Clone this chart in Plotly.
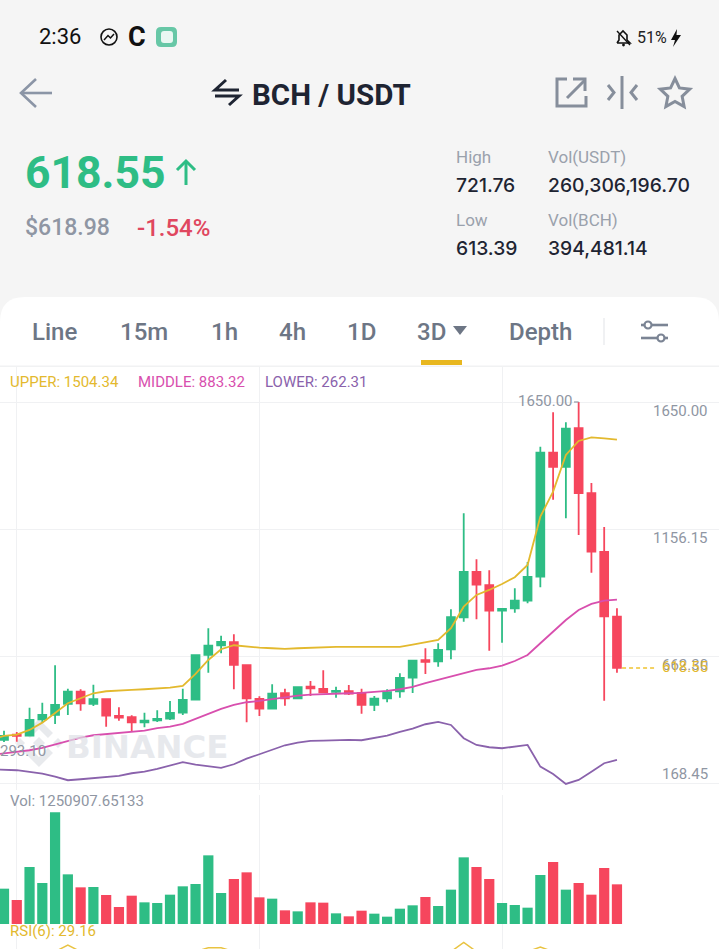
import math
import plotly.graph_objects as go

# ---------- data ----------
opens = [339.3,359.8,356.0,419.6,436.2,478.9,526.6,478.9,497.1,432.4,427.3,407.9,415.7,421.9,445.1,495.6,668.9,706.5,718.2,629.0,
         498.3,460.7,520.4,501.0,546.0,537.1,525.4,528.1,521.5,475.0,501.0,528.1,580.9,648.4,644.5,691.0,815.1,990.8,939.2,840.7,
         850.0,879.5,972.6,1453.4,1398.0,1548.1,1296.0,1068.3,817.4]
highs = [375.3,370.3,464.5,483.9,629.0,538.2,535.9,553.7,497.1,466.1,435.1,445.1,454.5,490.5,538.2,667.7,772.4,743.8,749.2,632.8,
         508.7,555.3,538.2,543.7,568.1,609.6,546.0,552.6,538.2,509.9,535.9,597.9,648.4,694.9,714.3,846.1,1218.4,1040.0,997.4,847.3,
         927.6,1029.6,1476.7,1610.1,1571.3,1650.0,1335.9,1165.3,850.0]
lows = [331.5,332.7,354.8,405.2,401.3,436.2,452.9,471.1,390.9,414.1,371.5,388.5,409.1,416.8,436.2,493.2,600.3,675.5,535.9,407.9,
        432.4,458.3,472.3,499.4,509.9,520.4,503.3,513.8,441.3,451.7,485.5,503.3,521.5,595.2,623.5,652.2,798.0,807.3,685.6,716.6,
        832.9,869.4,931.4,1271.2,1199.0,1134.3,988.1,491.7,600.3]
closes = [354.8,354.8,416.8,436.2,475.0,526.6,481.6,497.1,433.5,425.8,407.9,414.1,420.7,444.0,494.4,667.7,705.0,719.3,630.1,501.0,
          460.7,518.8,501.0,543.7,539.8,524.3,529.3,518.8,475.0,499.4,524.3,579.7,646.8,641.8,688.3,815.1,990.8,941.5,840.7,847.3,
          879.5,971.4,1453.4,1398.0,1546.5,1297.1,1069.5,819.0,618.55]
# the band lists start one candle before the first visible candle
upper = [340.0,354.8,359.8,378.1,406.4,442.8,481.6,501.0,520.4,528.1,532.0,533.2,535.9,538.2,542.1,548.7,595.2,649.5,691.0,706.5,701.1,
         697.2,694.9,692.2,694.9,697.2,698.8,699.9,699.9,699.9,698.8,698.8,699.9,708.9,716.6,727.1,772.4,856.2,901.6,921.0,944.2,
         970.2,1017.9,1205.2,1302.2,1444.5,1498.8,1513.1,1509.2,1504.34]
middle = [281.0,287.7,291.6,299.3,308.3,322.6,336.6,348.2,357.5,362.5,366.4,371.5,375.3,384.7,390.9,401.3,420.7,441.3,459.5,475.0,485.5,
          490.5,498.3,506.0,511.1,515.0,517.7,518.8,520.4,521.5,524.3,529.3,535.9,544.8,559.2,572.0,587.5,597.9,610.7,617.3,627.4,
          645.6,668.9,714.3,759.3,804.6,843.4,866.7,879.5,883.32]
lower = [225.0,222.9,221.8,215.2,208.6,197.0,183.0,186.9,191.9,197.0,199.7,210.1,216.4,226.8,239.6,252.8,243.5,235.7,230.7,245.0,266.8,
         283.8,301.7,318.7,328.8,335.4,336.6,338.1,339.3,338.1,345.9,356.0,370.3,383.1,400.2,409.1,397.4,345.9,319.9,311.0,307.1,
         313.3,319.9,235.7,207.4,168.6,184.2,216.4,248.9,262.31]
volume_k = [1114,757,1797,1293,3521,1566,1156,1167,914,536,893,683,662,925,1188,1261,2165,977,1419,1629,
            841,799,431,399,683,673,336,242,420,326,231,483,589,851,568,1083,2102,1797,1419,662,
            599,515,1545,1955,1083,1293,925,1766,1250.9]
rsi = [None,None,None,None,66,76,66,None,None,None,None,None,None,None,None,66,72,72,66,None,
       None,None,None,None,None,None,None,None,None,None,None,None,None,None,None,66,80,66,None,None,
       None,66,73,66,None,None,None,None,None]
grid_prices = [1650.00, 1156.15, 662.30, 168.45]
grid_candles = [1, 20, 39]

GREEN, RED = "#2EBD85", "#F6465D"
YEL, MAG, PUR = "#E3B92E", "#D84FAE", "#8A62AC"
GRAY, GRID = "#8F96A3", "#F0F1F3"
W, H = 719, 949
FONT = "Roboto"
N = len(closes)
idx = list(range(N))
idx_band = list(range(-1, N))
X_STEP, X_0 = 12.77, 4.0


def fx(p):
    return p / W


def fy(p):
    return 1 - p / H


def pth(cmds):
    out = []
    for c in cmds:
        if isinstance(c, str):
            out.append(c)
        else:
            out.append(f"{fx(c[0]):.5f},{fy(c[1]):.5f}")
    return " ".join(out)


def poly(points, close=False):
    s = []
    for i, p in enumerate(points):
        s += ["M" if i == 0 else "L", p]
    if close:
        s.append("Z")
    return pth(s)


shapes, notes = [], []


def stroke(points, color, width=2.5, close=False):
    shapes.append(dict(type="path", xref="paper", yref="paper", path=poly(points, close),
                       line=dict(color=color, width=width), layer="above"))


def fill(points, color, layer="above"):
    shapes.append(dict(type="path", xref="paper", yref="paper", path=poly(points, True),
                       fillcolor=color, line=dict(width=0), layer=layer))


def rrect(x0, y0, x1, y1, r, color):
    shapes.append(dict(type="path", xref="paper", yref="paper", fillcolor=color, line=dict(width=0), layer="above",
                       path=pth(["M", (x0 + r, y0), "L", (x1 - r, y0), "Q", (x1, y0), (x1, y0 + r), "L", (x1, y1 - r),
                                 "Q", (x1, y1), (x1 - r, y1), "L", (x0 + r, y1), "Q", (x0, y1), (x0, y1 - r),
                                 "L", (x0, y0 + r), "Q", (x0, y0), (x0 + r, y0), "Z"])))


def circle(cx, cy, r, line=None, fc=None, width=1.5):
    shapes.append(dict(type="circle", xref="paper", yref="paper", x0=fx(cx - r), x1=fx(cx + r),
                       y0=fy(cy + r), y1=fy(cy - r), fillcolor=fc or "rgba(0,0,0,0)",
                       line=dict(color=line or "rgba(0,0,0,0)", width=width), layer="above"))


def txt(x, y, s, size, color, anchor="left", weight=400, family=FONT):
    notes.append(dict(xref="paper", yref="paper", x=fx(x - 1 if anchor == "left" else x), y=fy(y), text=s, showarrow=False,
                      xanchor=anchor, yanchor="middle", borderpad=0,
                      font=dict(family=family, size=size, color=color, weight=weight)))


# white panel
shapes.append(dict(type="path", xref="paper", yref="paper", layer="below", fillcolor="#FFFFFF", line=dict(width=0),
                   path=pth(["M", (0, 322), "Q", (0, 297), (25, 297), "L", (694, 297), "Q", (719, 297), (719, 322),
                             "L", (719, 949), "L", (0, 949), "Z"])))
shapes.append(dict(type="rect", xref="paper", yref="paper", layer="below", x0=0, x1=1, y0=fy(367), y1=fy(365.5),
                   fillcolor="#F1F2F3", line=dict(width=0)))

# watermark logo
cx0, cy0 = 39, 743
WM = "#E8EAED"
fill([(cx0, cy0 - 24), (cx0 + 14, cy0 - 10), (cx0 + 9, cy0 - 5), (cx0, cy0 - 14), (cx0 - 9, cy0 - 5), (cx0 - 14, cy0 - 10)], WM, "below")
fill([(cx0, cy0 + 24), (cx0 + 14, cy0 + 10), (cx0 + 9, cy0 + 5), (cx0, cy0 + 14), (cx0 - 9, cy0 + 5), (cx0 - 14, cy0 + 10)], WM, "below")
for dx, r in ((0, 6), (-19, 5), (19, 5)):
    fill([(cx0 + dx, cy0 - r), (cx0 + dx + r, cy0), (cx0 + dx, cy0 + r), (cx0 + dx - r, cy0)], WM, "below")
txt(66, 747, "BINANCE", 32.5, "rgba(222,225,230,0.72)", weight=700, family="DejaVu Sans")

# status bar
txt(39, 37, "2:36", 22, "#111111")
circle(109, 37, 8, line="#111111", width=1.6)
stroke([(104, 40), (108, 35.5), (110.5, 38), (114, 34)], "#111111", 1.5)
txt(137, 37, "C", 27, "#111111", "center", 700)
rrect(156, 27, 177, 47, 5, "#67C7A6")
rrect(161, 31, 173, 43, 3, "#EAF7F2")
stroke([(617, 43), (619, 40), (619, 35), (623, 31), (627, 35), (627, 40), (630, 43), (617, 43)], "#111111", 1.6)
stroke([(617, 31), (630, 45)], "#111111", 1.4)
circle(623.5, 45, 1.4, fc="#111111", width=0)
txt(637, 38, "51%", 16, "#222222")
fill([(677, 29), (671, 40), (675, 40), (673, 47), (681, 35), (676.5, 35)], "#111111")

# header row
stroke([(52, 93), (21, 93)], "#8B95A6", 2.6)
stroke([(36, 79), (21, 93), (36, 107)], "#8B95A6", 2.6)
stroke([(226, 80), (215, 90), (239, 90)], "#1E2432", 3)
stroke([(215, 96), (239, 96), (229, 105)], "#1E2432", 3)
txt(252, 95, "BCH / USDT", 29.5, "#1E2432", weight=700)
stroke([(567, 79), (557, 79), (557, 106), (586, 106), (586, 96)], "#868E9B", 3)
stroke([(567, 98), (585, 80)], "#868E9B", 3)
stroke([(573, 79), (585, 79), (585, 91)], "#868E9B", 3)
stroke([(622, 76), (622, 109)], "#868E9B", 3)
stroke([(608, 85), (614, 92.5), (608, 100)], "#868E9B", 3)
stroke([(637, 85), (631, 92.5), (637, 100)], "#868E9B", 3)
star = []
for k in range(10):
    r = 15.5 if k % 2 == 0 else 7.5
    a = -math.pi / 2 + k * math.pi / 5
    star.append((675 + r * math.cos(a), 94 + r * math.sin(a)))
stroke(star, "#868E9B", 3, close=True)

# price block
txt(25, 173, "618.55", 44.5, GREEN, weight=700)
stroke([(186, 185), (186, 161)], GREEN, 3)
stroke([(177, 170), (186, 161), (195, 170)], GREEN, 3)
txt(25, 228, "$618.98", 23, GRAY, weight=500)
txt(137, 228, "-1.54%", 24, "#E0475F", weight=500)
for x, y, s in ((456, 157, "High"), (548, 157, "Vol(USDT)"), (456, 220, "Low"), (548, 220, "Vol(BCH)")):
    txt(x, y, s, 17, "#9AA1AC")
for x, y, s in ((456, 185, "721.76"), (548, 185, "260,306,196.70"), (456, 248, "613.39"), (548, 248, "394,481.14")):
    txt(x, y, s, 19.3, "#1E2432", weight=500, family="Inter")

# tabs
for x, s in ((55, "Line"), (144, "15m"), (224, "1h"), (292, "4h"), (361, "1D"), (431.5, "3D"), (540, "Depth")):
    txt(x, 332, s, 24, "#6D7685", "center", 500)
fill([(453, 326), (467, 326), (460, 335)], "#6D7685")
shapes.append(dict(type="rect", xref="paper", yref="paper", x0=fx(421), x1=fx(462), y0=fy(365), y1=fy(360),
                   fillcolor="#E8B71F", line=dict(width=0), layer="above"))
stroke([(604, 318), (604, 345)], "#E6E8EB", 1.2)
stroke([(641, 325), (668, 325)], "#7B8494", 2.6)
stroke([(641, 338), (668, 338)], "#7B8494", 2.6)
circle(648, 325, 3.5, line="#7B8494", fc="#FFFFFF", width=2.2)
circle(661, 338, 3.5, line="#7B8494", fc="#FFFFFF", width=2.2)

# chart labels
txt(10, 382, "UPPER: 1504.34", 15, YEL)
txt(138, 382, "MIDDLE: 883.32", 15, MAG)
txt(265, 382, "LOWER: 262.31", 15, PUR)
txt(10, 801, "Vol: 1250907.65133", 15, GRAY)
txt(10, 931, "RSI(6): 29.16", 15, YEL)
txt(574, 401, "1650.00", 15, GRAY, "right")
txt(0, 751, "293.10", 15, GRAY)
for y, s in ((411, "1650.00"), (538, "1156.15"), (665, "662.30"), (774, "168.45")):
    txt(709, y, s, 15, GRAY, "right")
txt(709, 667, "618.55", 15, YEL, "right")

# ---------- figure ----------
fig = go.Figure()
fig.add_trace(go.Candlestick(x=idx, open=opens, high=highs, low=lows, close=closes,
                             increasing=dict(line=dict(color=GREEN, width=1.8), fillcolor=GREEN),
                             decreasing=dict(line=dict(color=RED, width=1.8), fillcolor=RED),
                             whiskerwidth=0, hoverinfo="skip", showlegend=False))
for ser, col in ((upper, YEL), (middle, MAG), (lower, PUR)):
    fig.add_trace(go.Scatter(x=idx_band, y=ser, mode="lines", line=dict(color=col, width=1.8),
                             hoverinfo="skip", showlegend=False))
fig.add_trace(go.Scatter(x=[N - 1 + 0.4, N + 2], y=[closes[-1]] * 2, mode="lines",
                         line=dict(color="#F0C330", width=1.4, dash="4px,3px"), hoverinfo="skip", showlegend=False))
fig.add_trace(go.Scatter(x=[44.64, 45], y=[max(highs)] * 2, mode="lines",
                         line=dict(color=GRAY, width=1.2), hoverinfo="skip", showlegend=False))
fig.add_trace(go.Bar(x=idx, y=volume_k, yaxis="y2", width=0.8, hoverinfo="skip", showlegend=False,
                     marker=dict(color=[GREEN if c >= o else RED for o, c in zip(opens, closes)], line=dict(width=0))))
fig.add_trace(go.Scatter(x=idx, y=rsi, yaxis="y3", mode="lines", line=dict(color="#E9C341", width=1.5),
                         connectgaps=False, hoverinfo="skip", showlegend=False))

PX = 127.33 / (1650 - 1156.15)  # pixels per price unit


def price_at(y):
    return 1650 - (y - 402) / PX


x_rng = [(0 - X_0) / X_STEP, (W - X_0) / X_STEP]
fig.update_layout(
    width=W, height=H, margin=dict(l=0, r=0, t=0, b=0, pad=0),
    paper_bgcolor="#F5F5F5", plot_bgcolor="rgba(0,0,0,0)", showlegend=False, bargap=0.2,
    boxgap=0.12, dragmode=False, shapes=shapes, annotations=notes,
    xaxis=dict(domain=[0, 1], range=x_rng, rangeslider=dict(visible=False), showticklabels=False, ticks="",
               showgrid=True, gridcolor=GRID, gridwidth=1.4, tickmode="array", tickvals=grid_candles,
               zeroline=False, showline=False),
    yaxis=dict(domain=[fy(790), fy(367)], range=[price_at(790), price_at(367)], tickmode="array",
               tickvals=grid_prices, showticklabels=False, ticks="", gridcolor=GRID, gridwidth=1.4,
               zeroline=False, showline=False),
    yaxis2=dict(domain=[fy(924), fy(795)], range=[0, 129 * 1250.9 / 39.67], tickmode="array", tickvals=[0],
                showticklabels=False, ticks="", showgrid=True, gridcolor=GRID, gridwidth=1.5,
                zeroline=False, showline=False),
    yaxis3=dict(domain=[0, fy(924)], range=[70, 70 + 25 * 1.5], showticklabels=False, ticks="", showgrid=False,
                zeroline=False, showline=False),
)
fig.write_html("out.html", config=dict(displayModeBar=False),
               post_script="document.body.style.margin='0';document.body.style.overflow='hidden';")
